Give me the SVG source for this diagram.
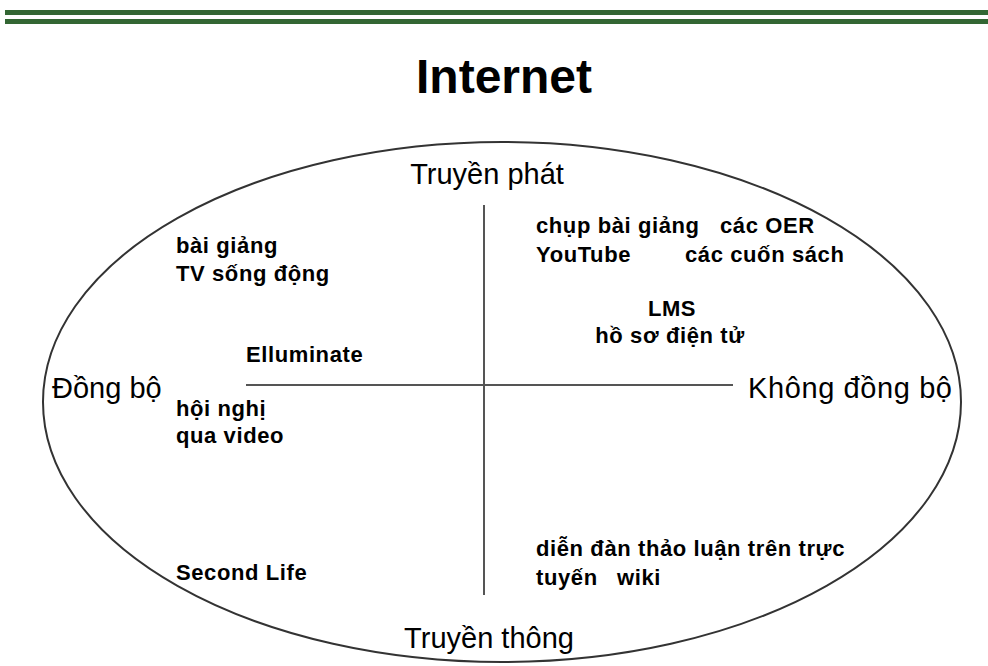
<svg xmlns="http://www.w3.org/2000/svg" width="988" height="666" viewBox="0 0 988 666">
  <style>
    .title { font-family: "Liberation Sans", Arial, sans-serif; font-weight: bold; font-size: 48px; fill: #000; }
    .axis { font-family: "Liberation Sans", Arial, sans-serif; font-size: 29px; fill: #000; }
    .item { font-family: "Liberation Sans", Arial, sans-serif; font-weight: bold; font-size: 22px; letter-spacing: 0.6px; fill: #000; }
    .rule { fill: #336633; }
    .frame { fill: none; stroke: #333; stroke-width: 2; }
    .cross { stroke: #555; stroke-width: 2; }
  </style>

  <rect width="988" height="666" fill="#fff"/>

  <!-- header rules -->
  <rect class="rule" x="5" y="10" width="983" height="5"/>
  <rect class="rule" x="5" y="19" width="983" height="5"/>

  <text class="title" x="504" y="93" text-anchor="middle">Internet</text>

  <!-- outer ellipse and the two axes -->
  <g id="connectors">
    <ellipse class="frame" cx="502" cy="402" rx="459" ry="260"/>
    <line class="cross" x1="484" y1="205" x2="484" y2="595"/>
    <line class="cross" x1="246" y1="385" x2="733" y2="385"/>
  </g>

  <!-- axis labels -->
  <g id="truyen-phat"><text class="axis" x="487" y="184" text-anchor="middle">Truyền phát</text></g>
  <g id="truyen-thong"><text class="axis" x="489" y="648" text-anchor="middle">Truyền thông</text></g>
  <g id="dong-bo"><text class="axis" x="52" y="398">Đồng bộ</text></g>
  <g id="khong-dong-bo"><text class="axis" x="748" y="398" textLength="204" lengthAdjust="spacing">Không đồng bộ</text></g>

  <!-- upper left -->
  <g id="bai-giang-tv">
    <text class="item" x="176" y="253">bài giảng</text>
    <text class="item" x="176" y="281">TV sống động</text>
  </g>
  <g id="elluminate"><text class="item" x="246" y="362">Elluminate</text></g>

  <!-- lower left -->
  <g id="hoi-nghi">
    <text class="item" x="176" y="416">hội nghị</text>
    <text class="item" x="176" y="443">qua video</text>
  </g>
  <g id="second-life"><text class="item" x="176" y="580">Second Life</text></g>

  <!-- upper right -->
  <g id="chup-bai-giang">
    <text class="item" x="536" y="233">chụp bài giảng</text>
    <text class="item" x="536" y="262">YouTube</text>
  </g>
  <g id="oer">
    <text class="item" x="720" y="233">các OER</text>
    <text class="item" x="685" y="262">các cuốn sách</text>
  </g>
  <g id="lms">
    <text class="item" x="672" y="316" text-anchor="middle">LMS</text>
    <text class="item" x="670" y="343" text-anchor="middle">hồ sơ điện tử</text>
  </g>

  <!-- lower right -->
  <g id="dien-dan">
    <text class="item" x="536" y="556">diễn đàn thảo luận trên trực</text>
    <text class="item" x="536" y="585">tuyến</text>
  </g>
  <g id="wiki"><text class="item" x="617" y="585">wiki</text></g>
</svg>
